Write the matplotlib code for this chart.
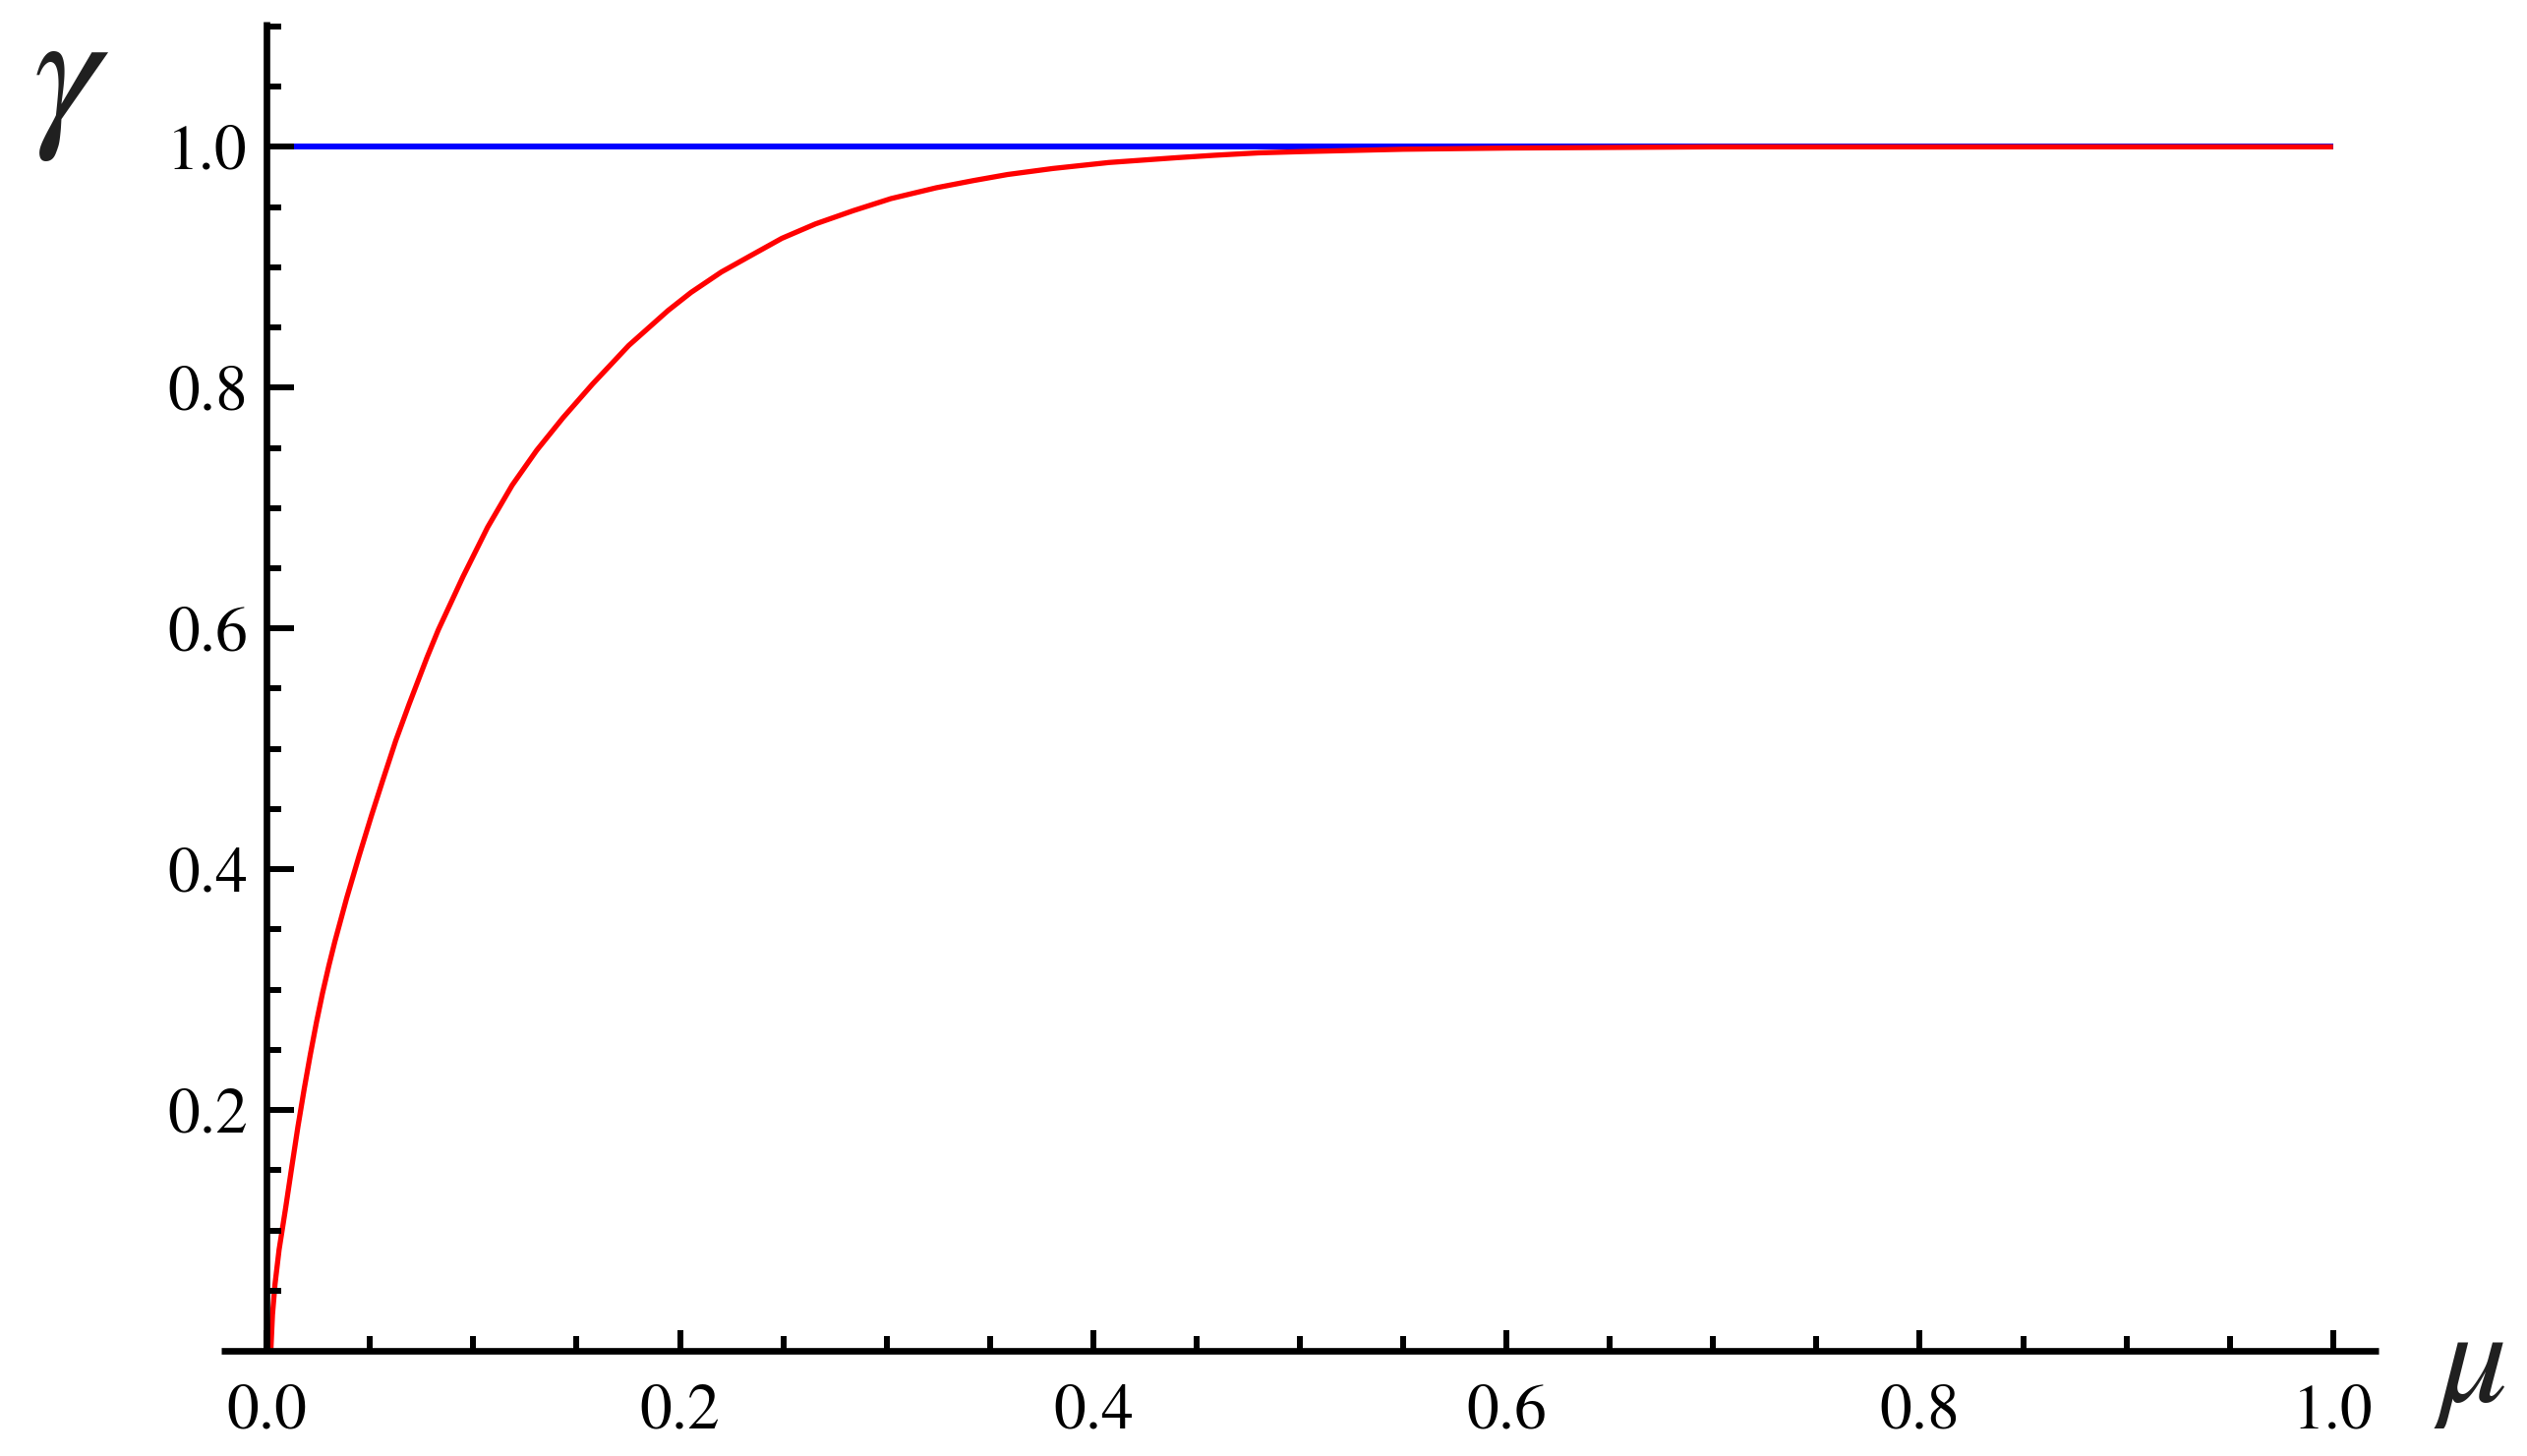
import matplotlib
matplotlib.use("Agg")
import matplotlib.pyplot as plt
from matplotlib.ticker import FixedLocator

plt.rcParams["mathtext.fontset"] = "stix"

# ---- data ----
mu_blue = [0.0, 1.0]
gamma_blue = [1.0, 1.0]

mu_red = [0.0020, 0.0028, 0.0040, 0.0060, 0.0092, 0.0119, 0.0151, 0.0182,
          0.0211, 0.0241, 0.0270, 0.0301, 0.0330, 0.0387, 0.0447, 0.0506,
          0.0562, 0.0625, 0.0689, 0.0776, 0.0831, 0.0950, 0.1069, 0.1188,
          0.1307, 0.1434, 0.1577, 0.1752, 0.1942, 0.2053, 0.2200, 0.2346,
          0.2493, 0.2656, 0.2839, 0.3021, 0.3240, 0.3421, 0.3585, 0.3804,
          0.4077, 0.4405, 0.4587, 0.4800, 0.5000, 0.5500, 0.6000, 0.7000,
          0.8000, 0.9000, 1.0000]
gamma_red = [0.000, 0.030, 0.055, 0.084, 0.119, 0.150, 0.186, 0.218,
             0.246, 0.273, 0.297, 0.320, 0.340, 0.376, 0.411, 0.444,
             0.474, 0.507, 0.537, 0.576, 0.599, 0.643, 0.684, 0.719,
             0.748, 0.775, 0.803, 0.835, 0.864, 0.879, 0.896, 0.910,
             0.924, 0.936, 0.947, 0.957, 0.966, 0.972, 0.977, 0.982,
             0.987, 0.991, 0.993, 0.995, 0.996, 0.998, 0.999, 1.000,
             1.000, 1.000, 1.000]

x_major = [0.0, 0.2, 0.4, 0.6, 0.8, 1.0]
x_labels = ["0.0", "0.2", "0.4", "0.6", "0.8", "1.0"]
x_minor = [0.05, 0.10, 0.15, 0.25, 0.30, 0.35, 0.45, 0.50, 0.55,
           0.65, 0.70, 0.75, 0.85, 0.90, 0.95]
y_major = [0.2, 0.4, 0.6, 0.8, 1.0]
y_labels = ["0.2", "0.4", "0.6", "0.8", "1.0"]
y_minor = [0.05, 0.10, 0.15, 0.25, 0.30, 0.35, 0.45, 0.50, 0.55,
           0.65, 0.70, 0.75, 0.85, 0.90, 0.95, 1.05, 1.10]

# ---- figure ----
W, H = 2570, 1481
fig = plt.figure(figsize=(W / 100, H / 100), dpi=100)
left, right = 225 / W, 2419 / W
bottom, top = (H - 1374) / H, (H - 22) / H
ax = fig.add_axes([left, bottom, right - left, top - bottom])

ax.plot(mu_blue, gamma_blue, color=(0, 0, 1), lw=4.3, solid_capstyle="butt", zorder=2)
ax.plot(mu_red, gamma_red, color=(1, 0, 0), lw=3.8, solid_capstyle="butt",
        solid_joinstyle="round", zorder=2.1)

ax.set_xlim(-0.022, 1.022)
ax.set_ylim(0.0, 1.104)

for s in ["top", "right"]:
    ax.spines[s].set_visible(False)
ax.spines["left"].set_position(("data", 0))
ax.spines["bottom"].set_position(("data", 0))
for s in ["left", "bottom"]:
    ax.spines[s].set_linewidth(4.8)
    ax.spines[s].set_capstyle("butt")
ax.set_axisbelow(False)

ax.xaxis.set_major_locator(FixedLocator(x_major))
ax.xaxis.set_minor_locator(FixedLocator(x_minor))
ax.yaxis.set_major_locator(FixedLocator(y_major))
ax.yaxis.set_minor_locator(FixedLocator(y_minor))
ax.set_xticklabels(x_labels)
ax.set_yticklabels(y_labels)

for lab in ax.get_xticklabels() + ax.get_yticklabels():
    lab.set_fontfamily("STIXGeneral")
    lab.set_fontsize(47)

ax.tick_params(axis="x", which="major", direction="in", length=15, width=4.3, pad=24)
ax.tick_params(axis="x", which="minor", direction="in", length=11, width=4.3)
ax.tick_params(axis="y", which="major", direction="in", length=20, width=4.3, pad=14)
ax.tick_params(axis="y", which="minor", direction="in", length=11, width=4.3)

fig.text(72 / W, 1 - 128 / H, r"$\gamma$", fontsize=125, ha="center", va="baseline",
         color="#202020")
fig.text(2512 / W, 1 - 1425 / H, r"$\mu$", fontsize=100, ha="center", va="baseline",
         color="#202020")

fig.savefig("out.png", dpi=100, facecolor="white")
